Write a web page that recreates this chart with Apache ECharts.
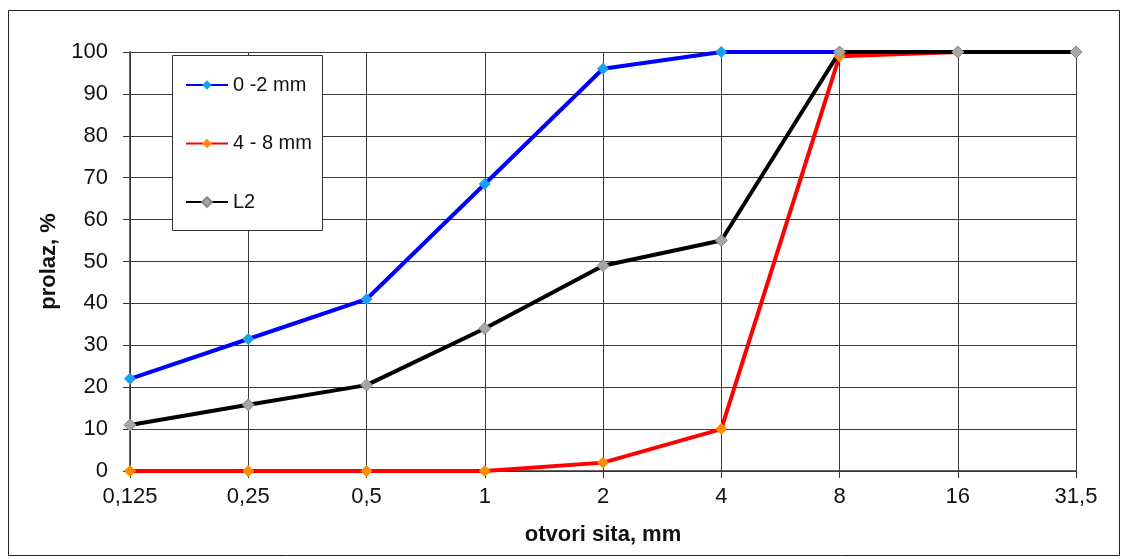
<!DOCTYPE html>
<html>
<head>
<meta charset="utf-8">
<script src="https://cdn.jsdelivr.net/npm/echarts@6/dist/echarts.min.js"></script>
<style>
html,body{margin:0;padding:0;background:#fff;}
#c{width:1124px;height:559px;}
</style>
</head>
<body>
<div id="c"></div>
<script>
var categories = ['0,125', '0,25', '0,5', '1', '2', '4', '8', '16', '31,5'];
var series02 = [22, 31.5, 41, 68.5, 96, 100, 100];
var series48 = [0, 0, 0, 0, 2, 10, 99, 100];
var seriesL2 = [11, 15.8, 20.5, 34, 49, 55, 100, 100, 100];
var seriesNames = ['0 -2 mm', '4 - 8 mm', 'L2'];
var yTicks = { min: 0, max: 100, interval: 10 };

var FONT = 'Liberation Sans, Arial, sans-serif';
var chart = echarts.init(document.getElementById('c'), null, { renderer: 'canvas' });
chart.setOption({
  backgroundColor: '#fff',
  animation: false,
  graphic: [
    { type: 'rect', left: 6, top: 8, z: 0, silent: true,
      shape: { width: 1111, height: 545 },
      style: { fill: 'none', stroke: '#222', lineWidth: 1 } },
    { type: 'rect', left: 172, top: 55, z: 3, silent: true,
      shape: { width: 150, height: 175 },
      style: { fill: '#fff', stroke: '#333', lineWidth: 1 } }
  ],
  grid: { left: 130, right: 48, top: 52, bottom: 88, containLabel: false },
  legend: {
    orient: 'vertical', left: 172, top: 55, z: 5,
    padding: [20, 12, 20, 13],
    itemWidth: 42, itemHeight: 12, itemGap: 38.5,
    textStyle: { fontFamily: FONT, fontSize: 20, color: '#111' },
    data: seriesNames
  },
  xAxis: {
    type: 'category', data: categories, boundaryGap: false,
    name: 'otvori sita, mm', nameLocation: 'middle', nameGap: 53,
    nameTextStyle: { fontFamily: FONT, fontSize: 22, fontWeight: 'bold', color: '#111' },
    axisLine: { show: true, lineStyle: { color: '#333', width: 1.5 } },
    axisTick: { show: true, alignWithLabel: true, length: 7, lineStyle: { color: '#333' } },
    axisLabel: { fontFamily: FONT, fontSize: 22, color: '#111', margin: 15 },
    splitLine: { show: true, lineStyle: { color: '#3a3a3a', width: 1 } }
  },
  yAxis: {
    type: 'value', min: yTicks.min, max: yTicks.max, interval: yTicks.interval,
    name: 'prolaz, %', nameLocation: 'middle', nameGap: 64,
    nameTextStyle: { fontFamily: FONT, fontSize: 22, fontWeight: 'bold', color: '#111' },
    axisLine: { show: true, lineStyle: { color: '#333', width: 1.5 } },
    axisTick: { show: true, length: 7, lineStyle: { color: '#333' } },
    axisLabel: { fontFamily: FONT, fontSize: 22, color: '#111', margin: 22 },
    splitLine: { show: true, lineStyle: { color: '#3a3a3a', width: 1 } }
  },
  series: [
    { name: seriesNames[0], type: 'line', data: series02, z: 2,
      symbol: 'diamond', symbolSize: 12,
      lineStyle: { color: '#0000ff', width: 4 },
      itemStyle: { color: '#1aa0f0', borderColor: '#1aa0f0', borderWidth: 0 } },
    { name: seriesNames[1], type: 'line', data: series48, z: 2,
      symbol: 'diamond', symbolSize: 12,
      lineStyle: { color: '#ff0000', width: 4 },
      itemStyle: { color: '#ff8c00', borderColor: '#ff8c00', borderWidth: 0 } },
    { name: seriesNames[2], type: 'line', data: seriesL2, z: 2,
      symbol: 'diamond', symbolSize: 12,
      lineStyle: { color: '#000000', width: 4 },
      itemStyle: { color: '#a6a6a6', borderColor: '#888', borderWidth: 1 } }
  ]
});
</script>
</body>
</html>
